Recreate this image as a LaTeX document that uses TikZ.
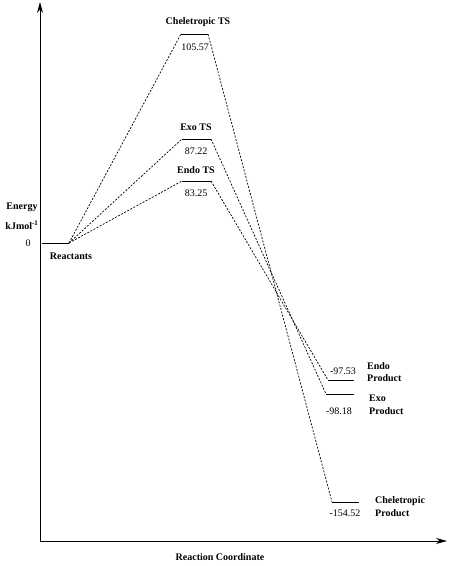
\documentclass[tikz,border=0pt]{standalone}
\usepackage{fontspec}
\setmainfont{Liberation Serif}
\usetikzlibrary{arrows.meta}
\begin{document}
\begin{tikzpicture}[x=1pt,y=-1pt,
  axis/.style={line width=0.8pt,-{Stealth[length=11pt,width=6pt]}},
  level/.style={line width=0.8pt},
  path/.style={line width=0.7pt,dash pattern=on 2pt off 1.5pt},
  lbl/.style={font=\fontsize{10}{11}\selectfont\bfseries,inner sep=0pt},
  val/.style={font=\fontsize{10}{11}\selectfont,inner sep=0pt},
  plbl/.style={lbl,anchor=west,align=left}]
\useasboundingbox (0,0) rectangle (450,566);
% axes
\coordinate (O) at (40,541);
\coordinate (Ytop) at (40,2);
\coordinate (Xend) at (447,541);
\draw[axis] (O) -- (Ytop);
\draw[axis] (O) -- (Xend);
\node[lbl] (xlab) at (220,557) {Reaction Coordinate};
\node[lbl] (ylab1) at (22,207) {Energy};
\node[lbl] (ylab2) at (22,225) {kJmol\textsuperscript{-1}};
\node[val] (zero) at (28,243) {0};
% reactants
\coordinate (R1) at (42,243);
\coordinate (R2) at (69,243);
\draw[level] (R1) -- (R2);
\node[lbl] (rlab) at (71,256) {Reactants};
% transition states
\coordinate (C1) at (181,34); \coordinate (C2) at (208,34);
\coordinate (X1) at (182,139); \coordinate (X2) at (211,139);
\coordinate (N1) at (182,181); \coordinate (N2) at (211,181);
\draw[level] (C1) -- (C2);
\draw[level] (X1) -- (X2);
\draw[level] (N1) -- (N2);
\node[lbl] (clab) at (198,22) {Cheletropic TS};
\node[val] (cval) at (195,47) {105.57};
\node[lbl] (xtlab) at (196,127) {Exo TS};
\node[val] (xval) at (196,151) {87.22};
\node[lbl] (ntlab) at (196,170) {Endo TS};
\node[val] (nval) at (196,193) {83.25};
% products
\coordinate (NP1) at (328,380); \coordinate (NP2) at (354,380);
\coordinate (XP1) at (326,394); \coordinate (XP2) at (354,394);
\coordinate (CP1) at (332,502); \coordinate (CP2) at (359,502);
\draw[level] (NP1) -- (NP2);
\draw[level] (XP1) -- (XP2);
\draw[level] (CP1) -- (CP2);
\node[val] (npval) at (343,371) {-97.53};
\node[plbl] (nplab1) at (367,366) {Endo};
\node[plbl] (nplab2) at (367,378) {Product};
\node[val] (xpval) at (339,411) {-98.18};
\node[plbl] (xplab1) at (369,398) {Exo};
\node[plbl] (xplab2) at (369,411) {Product};
\node[val] (cpval) at (345,513) {-154.52};
\node[plbl] (cplab1) at (375,501) {Cheletropic};
\node[plbl] (cplab2) at (375,513) {Product};
% reaction paths
\draw[path] (R2) -- (C1);
\draw[path] (R2) -- (X1);
\draw[path] (R2) -- (N1);
\draw[path] (C2) -- (CP1);
\draw[path] (X2) -- (XP1);
\draw[path] (N2) -- (NP1);
\end{tikzpicture}
\end{document}
